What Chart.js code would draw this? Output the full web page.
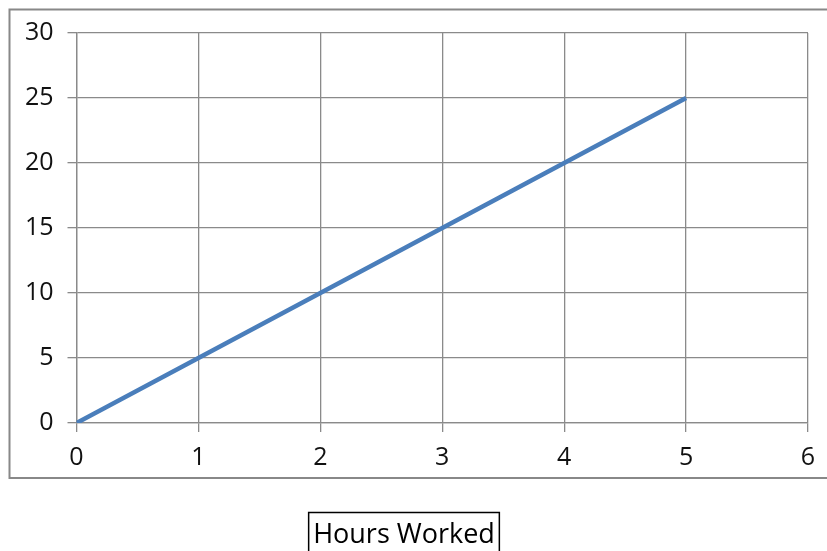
<!DOCTYPE html>
<html>
<head>
<meta charset="utf-8">
<script src="https://cdn.jsdelivr.net/npm/chart.js@4/dist/chart.umd.min.js"></script>
<style>
  html, body { margin: 0; padding: 0; background: #fff; }
  #wrap { width: 827px; height: 551px; position: relative; }
</style>
</head>
<body>
<div id="wrap"><canvas id="c" width="827" height="551"></canvas></div>
<script>
// ---- data ----
const hoursWorked = [0, 1, 2, 3, 4, 5];
const earnings = [0, 5, 10, 15, 20, 25];
const xAxisTitle = 'Hours Worked';
const xMin = 0, xMax = 6, xStep = 1;
const yMin = 0, yMax = 30, yStep = 5;

const points = hoursWorked.map((h, i) => ({ x: h, y: earnings[i] }));

const FONT = "'Open Sans', 'DejaVu Sans', sans-serif";
const gridColor = '#8a8a8a';

const decorations = {
  id: 'decorations',
  beforeDraw(chart) {
    const ctx = chart.ctx;
    ctx.save();
    ctx.fillStyle = '#fff';
    ctx.fillRect(0, 0, chart.width, chart.height);
    // outer chart frame
    ctx.strokeStyle = '#888';
    ctx.lineWidth = 2;
    ctx.strokeRect(9.5, 9.5, 840, 468.5);
    ctx.restore();
  },
  afterDraw(chart) {
    const tb = chart.titleBlock;
    if (!tb) return;
    const ctx = chart.ctx;
    const f = tb.options.font;
    ctx.save();
    ctx.font = f.size + 'px ' + FONT;
    const w = ctx.measureText(xAxisTitle).width;
    const cx = (tb.left + tb.right) / 2;
    const cy = tb.top + tb._padding.top + (f.size * 1.0) / 2;
    ctx.strokeStyle = '#000';
    ctx.lineWidth = 1.5;
    ctx.strokeRect(cx - w / 2 - 4.5, cy - 22.5, w + 9, 60);
    ctx.restore();
  }
};

new Chart(document.getElementById('c'), {
  type: 'line',
  data: {
    datasets: [{
      data: points,
      borderColor: '#4a7ebb',
      borderWidth: 4.5,
      pointRadius: 0,
      tension: 0,
      fill: false
    }]
  },
  options: {
    responsive: false,
    animation: false,
    layout: { padding: { left: 0, right: 19, top: 33, bottom: 0 } },
    plugins: {
      legend: { display: false },
      tooltip: { enabled: false },
      title: {
        display: true,
        text: xAxisTitle,
        position: 'bottom',
        color: '#000',
        font: { family: FONT, size: 27, weight: 'normal', lineHeight: 1.0 },
        padding: { top: 0, bottom: 2.5 }
      }
    },
    scales: {
      x: {
        type: 'linear',
        min: xMin, max: xMax,
        ticks: { stepSize: xStep, color: '#111', padding: 11, font: { family: FONT, size: 25 } },
        grid: { color: gridColor, lineWidth: 1.3, tickLength: 9, drawTicks: true },
        border: { color: gridColor, width: 1.3 },
        afterFit(s) { s.height = 98.5; }
      },
      y: {
        type: 'linear',
        min: yMin, max: yMax,
        ticks: { stepSize: yStep, color: '#111', padding: 14, font: { family: FONT, size: 25 } },
        grid: { color: gridColor, lineWidth: 1.3, tickLength: 9, drawTicks: true },
        border: { color: gridColor, width: 1.3 },
        afterFit(s) { s.width = 76.5; }
      }
    }
  },
  plugins: [decorations]
});
</script>
</body>
</html>
